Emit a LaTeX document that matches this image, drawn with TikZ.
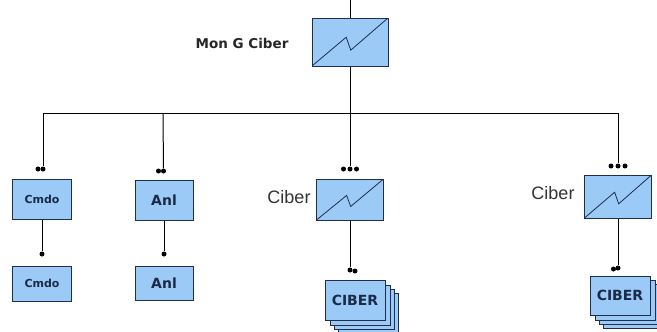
\documentclass[tikz,border=0pt]{standalone}
\usepackage{fontspec}
\setmainfont{Liberation Sans}
\newfontfamily\verdfont{DejaVu Sans}
\usetikzlibrary{positioning,calc}
\definecolor{boxblue}{HTML}{9CCAF6}
\definecolor{boxedge}{HTML}{1F2E4C}
\definecolor{boxtext}{HTML}{1B2A49}

\begin{document}
\begin{tikzpicture}[
  x=1pt, y=-1pt,
  box/.style={draw=boxedge, fill=boxblue, line width=1pt, inner sep=0pt, align=center,
    text=boxtext, font=\verdfont\bfseries\fontsize{14}{16}\selectfont},
  smallbox/.style={box, font=\verdfont\bfseries\fontsize{11}{13}\selectfont},
  conv/.style={box, minimum width=67pt, minimum height=42pt,
    path picture={\draw[boxedge, line width=0.8pt]
      let \p1=(path picture bounding box.south west), \p2=(path picture bounding box.north east) in
      (\p1) -- ({\x1+0.45*(\x2-\x1)},{\y1+0.60*(\y2-\y1)})
            -- ({\x1+0.51*(\x2-\x1)},{\y1+0.33*(\y2-\y1)}) -- (\p2);}},
  stackbox/.style={box, minimum width=60pt, minimum height=40pt},
  dot/.style={circle, fill=black, inner sep=0pt, minimum size=5pt},
  wire/.style={line width=1pt},
  lbl/.style={text=black!80, font=\fontsize{18}{20}\selectfont},
]
  \useasboundingbox[fill=white] (0,0) rectangle (657,332);

  % feeder and main converter
  \coordinate (feed) at (350,0);
  \node[conv, minimum width=76pt, minimum height=48pt] (mong) at (350,42) {};
  \node[text=black!85, font=\verdfont\bfseries\fontsize{13.5}{15}\selectfont] (monglbl) at (242,43) {Mon G Ciber};

  % bus
  \coordinate (bus1) at (43,113);
  \coordinate (bus2) at (163,113);
  \coordinate (bus3) at (350,113);
  \coordinate (bus4) at (618,113);

  % Cmdo column
  \node[dot] (dcm1a) at (38,169) {};
  \node[dot] (dcm1b) at (43,169) {};
  \node[smallbox, minimum width=59pt, minimum height=40pt] (cmdo1) at (42,199) {Cmdo};
  \node[dot] (dcm2) at (42,254) {};
  \node[smallbox, minimum width=59pt, minimum height=35pt] (cmdo2) at (42,283.5) {Cmdo};

  % Anl column
  \node[dot] (dan1a) at (158.5,171) {};
  \node[dot] (dan1b) at (163.5,171) {};
  \node[box, minimum width=58pt, minimum height=40pt] (anl1) at (164,200) {Anl};
  \node[dot] (dan2) at (164,254) {};
  \node[box, minimum width=58pt, minimum height=34pt] (anl2) at (164,283) {Anl};

  % middle Ciber
  \node[dot] (dmc1a) at (343.5,169) {};
  \node[dot] (dmc1b) at (350,169) {};
  \node[dot] (dmc1c) at (356.5,169) {};
  \node[conv, minimum height=41pt] (ciber1) at (350,199.5) {};
  \node[lbl] (ciber1lbl) at (289,197) {Ciber};
  \node[dot] (dmc2a) at (350,270) {};
  \node[dot] (dmc2b) at (355,271) {};
  \foreach \s in {13,9,5}
    \node[stackbox] (stackA-\s) at ({355+\s},{300+\s}) {};
  \node[stackbox] (stackA) at (355,300) {CIBER};

  % right Ciber
  \node[dot] (drc1a) at (611,166) {};
  \node[dot] (drc1b) at (618,166) {};
  \node[dot] (drc1c) at (625,166) {};
  \node[conv, minimum height=43pt] (ciber2) at (618,196.5) {};
  \node[lbl] (ciber2lbl) at (553,193) {Ciber};
  \node[dot] (drc2a) at (613.5,269) {};
  \node[dot] (drc2b) at (618,268) {};
  \foreach \s in {13,9,5}
    \node[stackbox] (stackB-\s) at ({620+\s},{295.5+\s}) {};
  \node[stackbox, minimum height=39pt] (stackB) at (620,295.5) {CIBER};

  % connectors
  \draw[wire] (feed) -- (mong);
  \draw[wire] (mong) -- (bus3);
  \draw[wire] (bus1) -- (bus4);
  \draw[wire] (bus1) -- (dcm1b);
  \draw[wire] (bus2) -- (dan1b);
  \draw[wire] (bus3) -- (dmc1b);
  \draw[wire] (bus4) -- (drc1b);
  \draw[wire] (cmdo1) -- (dcm2);
  \draw[wire] (anl1) -- (dan2);
  \draw[wire] (ciber1) -- (dmc2a);
  \draw[wire] (ciber2) -- (drc2b);
\end{tikzpicture}
\end{document}
